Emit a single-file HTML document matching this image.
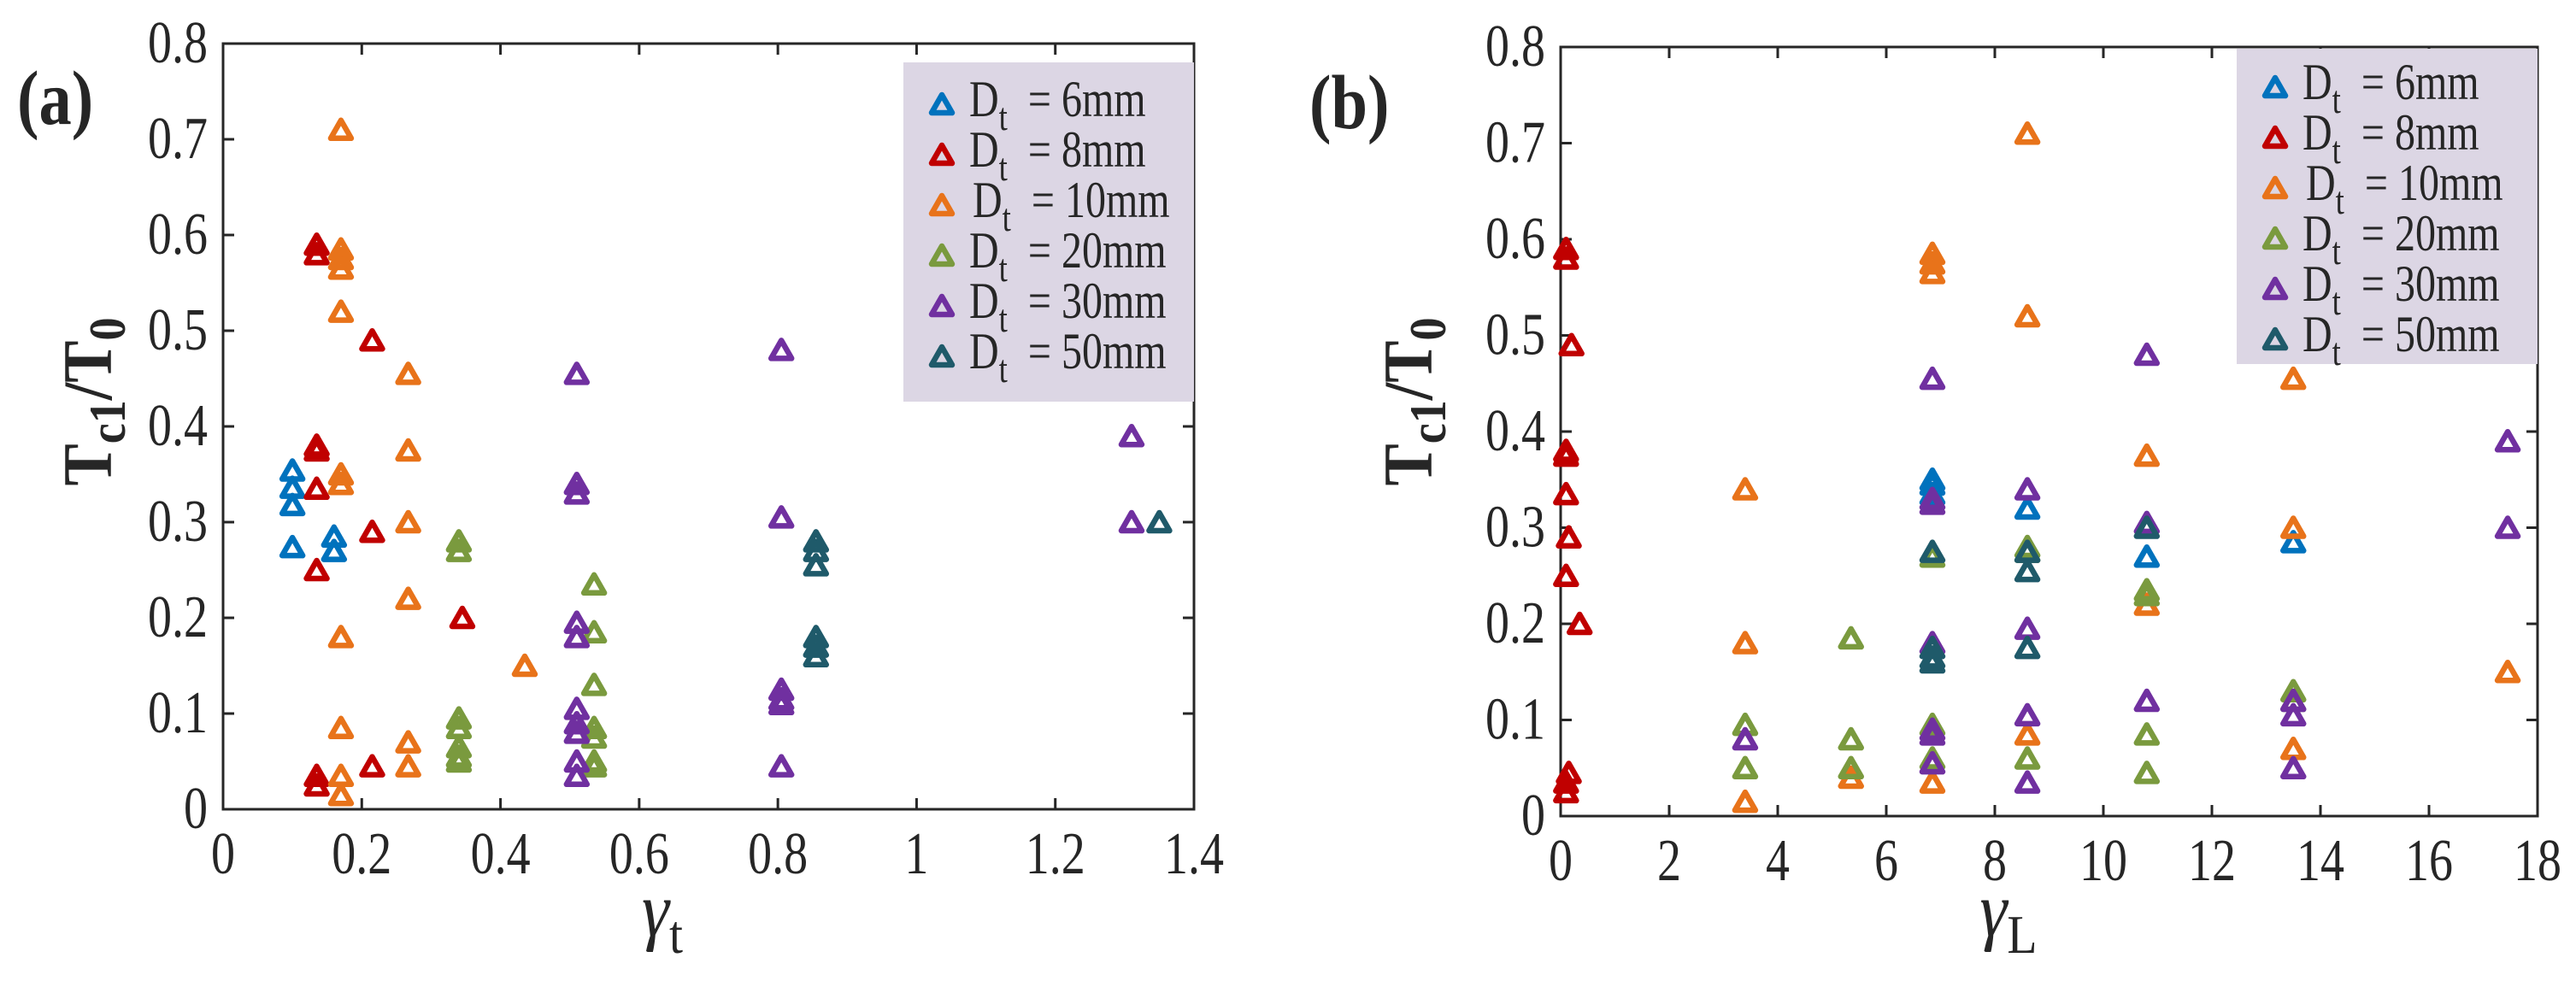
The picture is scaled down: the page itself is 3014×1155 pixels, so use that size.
<!DOCTYPE html>
<html><head><meta charset="utf-8"><style>
body{margin:0;background:#fff}
svg text{font-family:"Liberation Serif",serif;fill:#262626}
</style></head><body>
<svg id="s" width="3014" height="1150" viewBox="0 0 3014 1150" xmlns="http://www.w3.org/2000/svg"></svg>
<script>
const colors=["#0072BD","#C00000","#E8731A","#7A9A3E","#7030A0","#1F5A6A"];
const seriesNames=["6mm","8mm","10mm","20mm","30mm","50mm"];
// Panel (a)
const a6x=[0.1,0.1,0.1,0.1,0.16,0.16];
const a6y=[0.354,0.336,0.318,0.274,0.285,0.27];
const a8x=[0.135,0.135,0.135,0.135,0.135,0.135,0.135,0.135,0.215,0.215,0.215,0.345];
const a8y=[0.59,0.58,0.38,0.375,0.335,0.25,0.035,0.025,0.49,0.29,0.045,0.2];
const a10x=[0.17,0.17,0.17,0.17,0.17,0.17,0.17,0.17,0.17,0.17,0.17,0.267,0.267,0.267,0.267,0.267,0.267,0.435];
const a10y=[0.71,0.585,0.575,0.565,0.52,0.35,0.34,0.18,0.085,0.035,0.015,0.455,0.375,0.3,0.22,0.07,0.045,0.15];
const a20x=[0.34,0.34,0.34,0.34,0.34,0.34,0.34,0.535,0.535,0.535,0.535,0.535,0.535,0.535];
const a20y=[0.28,0.27,0.095,0.085,0.065,0.055,0.05,0.235,0.185,0.13,0.085,0.075,0.05,0.045];
const a30x=[0.51,0.51,0.51,0.51,0.51,0.51,0.51,0.51,0.51,0.51,0.805,0.805,0.805,0.805,0.805,0.805,1.31,1.31];
const a30y=[0.455,0.34,0.33,0.195,0.18,0.105,0.09,0.08,0.05,0.035,0.48,0.305,0.125,0.115,0.11,0.045,0.39,0.3];
const a50x=[0.855,0.855,0.855,0.855,0.855,0.855,1.35];
const a50y=[0.28,0.27,0.255,0.18,0.17,0.16,0.3];
// Panel (b)
const b6x=[6.85,6.85,6.85,8.6,10.8,13.5];
const b6y=[0.35,0.345,0.335,0.32,0.27,0.285];
const b8x=[0.1,0.1,0.2,0.1,0.1,0.1,0.15,0.1,0.35,0.15,0.1,0.1];
const b8y=[0.59,0.58,0.49,0.38,0.375,0.335,0.29,0.25,0.2,0.045,0.035,0.025];
const b10x=[3.4,3.4,3.4,5.35,6.85,6.85,6.85,6.85,8.6,8.6,8.6,10.8,10.8,13.5,13.5,13.5,17.45];
const b10y=[0.34,0.18,0.015,0.04,0.585,0.575,0.565,0.035,0.71,0.52,0.085,0.375,0.22,0.455,0.3,0.07,0.15];
const b20x=[3.4,3.4,5.35,5.35,5.35,6.85,6.85,6.85,8.6,8.6,8.6,10.8,10.8,10.8,10.8,13.5,13.5];
const b20y=[0.095,0.05,0.185,0.08,0.05,0.27,0.095,0.06,0.28,0.275,0.06,0.235,0.23,0.085,0.045,0.13,0.12];
const b30x=[3.4,6.85,6.85,6.85,6.85,6.85,6.85,6.85,8.6,8.6,8.6,8.6,10.8,10.8,10.8,13.5,13.5,13.5,17.45,17.45];
const b30y=[0.08,0.455,0.33,0.325,0.18,0.09,0.085,0.055,0.34,0.195,0.105,0.035,0.48,0.305,0.12,0.12,0.105,0.05,0.39,0.3];
const b50x=[6.85,6.85,6.85,6.85,8.6,8.6,8.6,10.8];
const b50y=[0.275,0.175,0.165,0.16,0.275,0.255,0.175,0.3];
const aXTicks=["0","0.2","0.4","0.6","0.8","1","1.2","1.4"];
const bXTicks=["0","2","4","6","8","10","12","14","16","18"];
const yTicks=["0","0.1","0.2","0.3","0.4","0.5","0.6","0.7","0.8"];

const NS="http://www.w3.org/2000/svg";
const svg=document.getElementById('s');
function mk(tag,attrs,parent,text){const e=document.createElementNS(NS,tag);for(const k in attrs)e.setAttribute(k,attrs[k]);if(text!==undefined)e.textContent=text;(parent||svg).appendChild(e);return e;}
function txt(x,y,attrs,parent,text,sx){attrs.transform=`translate(${x},${y}) scale(${sx||0.8},1)`;attrs.x=0;attrs.y=0;return mk('text',attrs,parent,text);}
function tri(g,cx,cy,c){
  return mk('path',{d:`M${cx-12},${cy+10}L${cx},${cy-11}L${cx+12},${cy+10}Z`,fill:'none',stroke:c,'stroke-width':6.5,'stroke-linejoin':'round'},g);
}
function panel(P){
  const g=mk('g',{});
  
  
  const sx=v=>P.x0+(v-P.xmin)/(P.xmax-P.xmin)*(P.x1-P.x0);
  const sy=v=>P.y0-(v/0.8)*(P.y0-P.y1);
  const lg=mk('g',{},g);
  
  
  mk('rect',{x:P.lx,y:P.ly,width:P.x1-P.lx,height:P.lh,fill:'#DCD6E4'},lg);
  P.xt.forEach((t,i)=>{
    const v=P.xmin+i*(P.xmax-P.xmin)/(P.xt.length-1);const x=sx(v);
    mk('line',{x1:x,y1:P.y0,x2:x,y2:P.y0-13,stroke:'#262626','stroke-width':3},g);
    mk('line',{x1:x,y1:P.y1,x2:x,y2:P.y1+13,stroke:'#262626','stroke-width':3},g);
    const tx=txt(x,P.y0+75,{'font-size':70,'text-anchor':'middle'},g,t);
    
    
  });
  yTicks.forEach((t,i)=>{
    const y=sy(i*0.1);
    mk('line',{x1:P.x0,y1:y,x2:P.x0+13,y2:y,stroke:'#262626','stroke-width':3},g);
    mk('line',{x1:P.x1,y1:y,x2:P.x1-13,y2:y,stroke:'#262626','stroke-width':3},g);
    const tx=txt(P.x0-18,y+22,{'font-size':70,'text-anchor':'end'},g,t);
    
    
  });
  mk('rect',{x:P.x0,y:P.y1,width:P.x1-P.x0,height:P.y0-P.y1,fill:'none',stroke:'#262626','stroke-width':3},g);
  P.series.forEach((s,k)=>{
    const sg=mk('g',{},g);
    
    
    s[0].forEach((xv,i)=>{const m=tri(sg,sx(xv),sy(s[1][i]),colors[k]);
      
      });
  });
  seriesNames.forEach((n,k)=>{
    const y=P.ly+P.le0+k*59;
    const eg=mk('g',{},lg);
    
    
    tri(eg,P.lx+45,y,colors[k]);
    const t=txt(P.lx+77+(k==2?4:0),y+14,{'font-size':60},eg);
    t.innerHTML=`D<tspan dy="16" font-size="46">t</tspan><tspan dy="-16" xml:space="preserve">  = ${n.replace('mm','')}mm</tspan>`;
  });
  lg.parentNode.appendChild(lg);
  const pl=txt(P.px,P.py,{'font-size':90,'font-weight':'bold',fill:'#000'},svg,P.label,0.85);
  
  
  const yl=mk('text',{transform:`translate(${P.ylx},470) rotate(-90) scale(0.9,1)`,'font-size':82,'font-weight':'bold','text-anchor':'middle',fill:'#111'},svg);
  yl.innerHTML='T<tspan dy="16" font-size="60">c1</tspan><tspan dy="-16">/T</tspan><tspan dy="16" font-size="60">0</tspan>';
  
  
  const xl=txt(P.xlx,1095,{'font-size':90,'text-anchor':'middle'},svg,undefined,0.9);
  xl.innerHTML=`<tspan font-style="italic">γ</tspan><tspan dy="20" font-size="64">${P.sub}</tspan>`;
  
  
}
panel({name:'panel-a',x0:261,x1:1397,y0:947,y1:51,xmin:0,xmax:1.4,xt:aXTicks,lx:1057,ly:73,lh:397,le0:49,
  series:[[a6x,a6y],[a8x,a8y],[a10x,a10y],[a20x,a20y],[a30x,a30y],[a50x,a50y]],
  label:'(a)',px:20,py:145,ylx:130,xlx:775,sub:'t'});
panel({name:'panel-b',x0:1826,x1:2969,y0:955,y1:55,xmin:0,xmax:18,xt:bXTicks,lx:2617,ly:57,lh:369,le0:45,
  series:[[b6x,b6y],[b8x,b8y],[b10x,b10y],[b20x,b20y],[b30x,b30y],[b50x,b50y]],
  label:'(b)',px:1532,py:150,ylx:1675,xlx:2350,sub:'L'});
</script>
</body></html>
